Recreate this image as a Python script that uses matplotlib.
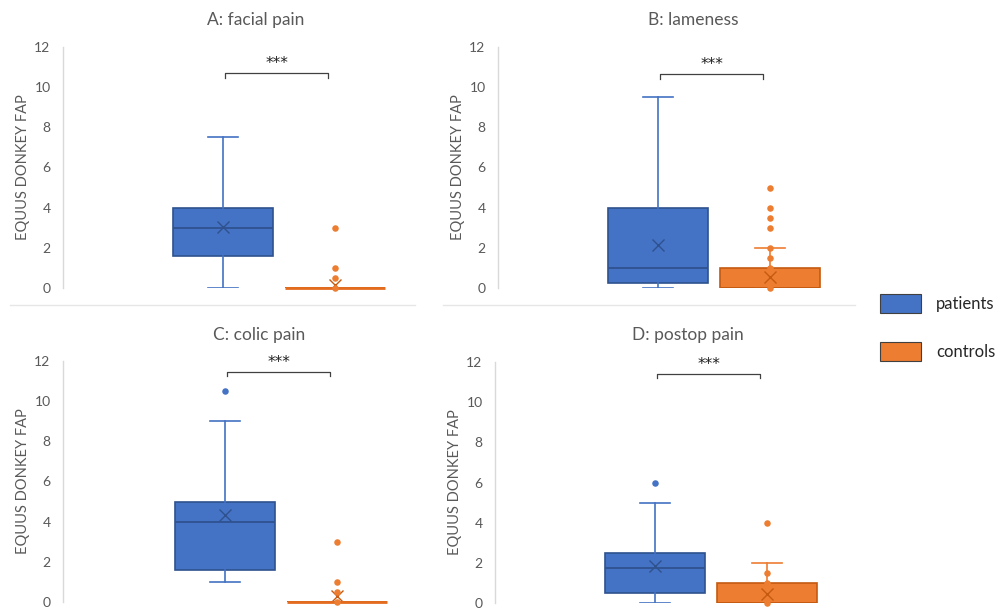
import matplotlib.pyplot as plt
from matplotlib.lines import Line2D
from matplotlib.patches import Rectangle

plt.rcParams['font.family'] = ['Lato', 'DejaVu Sans']

# panel titles
titles = ["A: facial pain", "B: lameness", "C: colic pain", "D: postop pain"]
groups = ["patients", "controls"]

# box statistics per panel: [patients, controls]
q1 = [[1.6, 0.0], [0.25, 0.0], [1.6, 0.0], [0.5, 0.0]]
median = [[3.0, 0.0], [1.0, 0.0], [4.0, 0.0], [1.75, 0.0]]
q3 = [[4.0, 0.0], [4.0, 1.0], [5.0, 0.0], [2.5, 1.0]]
whisk_lo = [[0.0, 0.0], [0.0, 0.0], [1.0, 0.0], [0.0, 0.0]]
whisk_hi = [[7.5, 0.0], [9.5, 2.0], [9.0, 0.0], [5.0, 2.0]]
means = [[3.03, 0.13], [2.14, 0.56], [4.33, 0.3], [1.84, 0.43]]
points = [
    [[], [0.0, 0.5, 1.0, 3.0]],
    [[], [0.0, 1.0, 1.5, 2.0, 3.0, 3.5, 4.0, 5.0]],
    [[10.5], [0.0, 0.5, 1.0, 3.0]],
    [[6.0], [0.0, 1.0, 1.5, 4.0]],
]
# significance bracket height per panel
bracket_y = [10.7, 10.65, 11.45, 11.4]
stars = "***"

fill = ["#4472C4", "#ED7D31"]
edge = ["#2F528F", "#C55A11"]
W, H = 998, 615

fig = plt.figure(figsize=(W / 100, H / 100), dpi=100)

# pixel frames of the four plot areas: left, top, right, bottom
frames = [(63, 47, 413, 288), (498, 47, 848, 288),
          (63, 361, 413, 602), (495, 362, 845, 603)]
first_box = [160, 160, 162, 160]
title_pos = [(256, 20), (693, 20), (259, 335), (688, 335)]
step = 112.0

for i, (x0, yt, x1, yb) in enumerate(frames):
    ax = fig.add_axes([x0 / W, 1 - yb / H, (x1 - x0) / W, (yb - yt) / H])
    off = first_box[i] / step
    ax.set_xlim(-off, (x1 - x0) / step - off)
    ax.set_ylim(0, 12)

    for g in range(2):
        st = [dict(med=median[i][g], q1=q1[i][g], q3=q3[i][g],
                   whislo=whisk_lo[i][g], whishi=whisk_hi[i][g],
                   mean=means[i][g], fliers=[], label=groups[g])]
        ax.bxp(st, positions=[g], widths=0.9, capwidths=0.27,
               showmeans=True, patch_artist=True, manage_ticks=False,
               boxprops=dict(facecolor=fill[g], edgecolor=edge[g], linewidth=1.2),
               medianprops=dict(color=edge[g], linewidth=1.3),
               whiskerprops=dict(color=fill[g], linewidth=1.2),
               capprops=dict(color=fill[g], linewidth=1.2),
               meanprops=dict(marker="x", markersize=8, markeredgecolor=edge[g],
                              markeredgewidth=1.0),
               zorder=2)
        if q1[i][g] == q3[i][g]:
            # collapsed box: draw it as a flat bar
            ax.plot([g - 0.45, g + 0.45], [q1[i][g]] * 2, color="#E46C1F",
                    lw=2.0, solid_capstyle="butt", zorder=3, clip_on=False)
        pts = points[i][g]
        if pts:
            ax.scatter([g] * len(pts), pts, s=22, color=fill[g], zorder=4,
                       clip_on=False, linewidths=0)

    # significance bracket
    by = bracket_y[i]
    ax.plot([0.02, 0.02, 0.94, 0.94], [by - 0.22, by, by, by - 0.22],
            color="#404040", lw=0.9, clip_on=False)
    ax.text(0.48, by + 0.1, stars, ha="center", va="bottom", fontsize=11,
            color="#202020", family="DejaVu Sans")

    ax.set_yticks(range(0, 13, 2))
    ax.set_xticks([])
    ax.tick_params(axis="y", length=0, labelsize=10, labelcolor="#595959", pad=9)
    for s in ("top", "right", "bottom"):
        ax.spines[s].set_visible(False)
    ax.spines["left"].set_color("#D9D9D9")
    ax.spines["left"].set_linewidth(1.0)
    ax.set_ylabel("EQUUS DONKEY FAP", fontsize=10.5, color="#595959", labelpad=3)

    tx, ty = title_pos[i]
    fig.text(tx / W, 1 - ty / H, titles[i], ha="center", va="center",
             fontsize=12.5, color="#595959")

# thin separators under the top row
for xa, xb in [(10, 415), (443, 855)]:
    fig.add_artist(Line2D([xa / W, xb / W], [1 - 305 / H] * 2,
                          color="#E6E6E6", lw=1.0))

# legend
for g, yy in enumerate([294, 342]):
    fig.add_artist(Rectangle((880 / W, 1 - (yy + 19) / H), 41 / W, 19 / H,
                             facecolor=fill[g], edgecolor="#404040", lw=0.8,
                             transform=fig.transFigure))
    fig.text(936 / W, 1 - (yy + 10) / H, groups[g], ha="left", va="center",
             fontsize=12, color="#262626")

fig.savefig("out.png", dpi=100)
